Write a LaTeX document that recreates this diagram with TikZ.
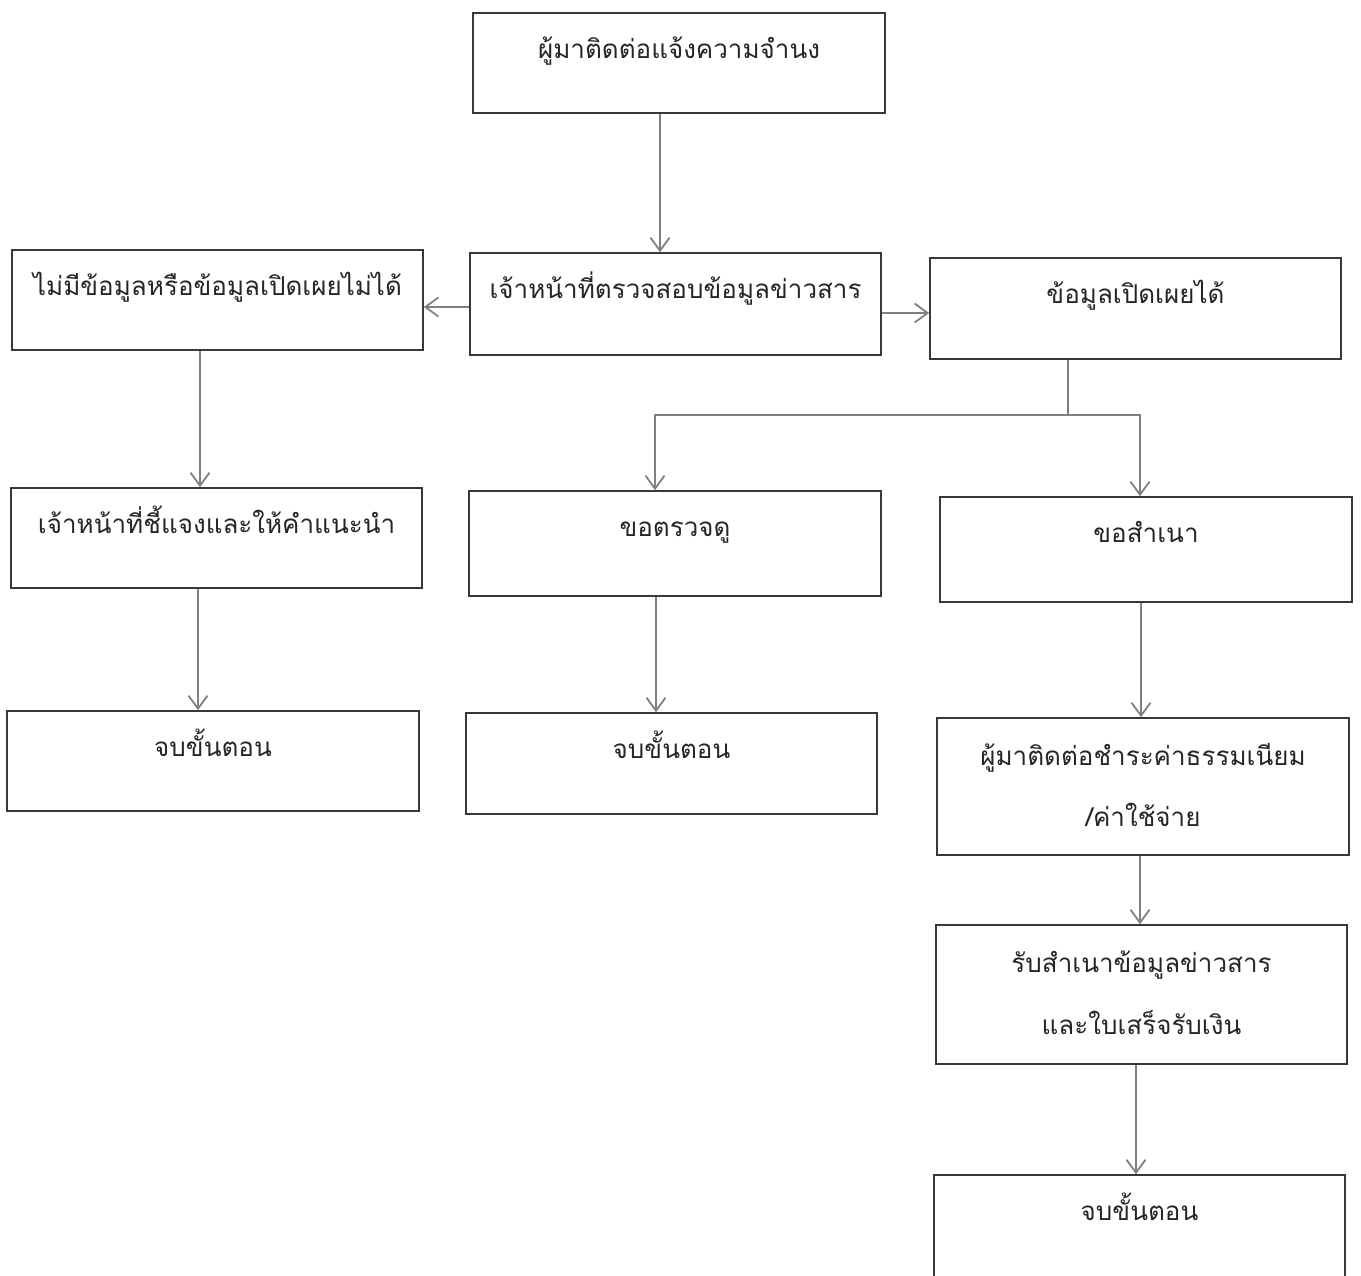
\documentclass[tikz,border=0pt]{standalone}
\usepackage{fontspec}
\newfontfamily\thaifont[Script=Thai]{Loma}
\usetikzlibrary{arrows.meta}
\begin{document}
\begin{tikzpicture}[x=1pt,y=-1pt,
  box/.style={draw=black!78, line width=1.6pt, inner sep=0pt, minimum width=411pt, minimum height=100pt},
  txt/.style={font=\thaifont\fontsize{26}{30}\selectfont, anchor=base, inner sep=0pt, text=black!85},
  conn/.style={draw=black!50, line width=1.8pt},
  arr/.style={conn, -{Straight Barb[length=13pt,width=19pt]}}]
\useasboundingbox (0,0) rectangle (1361,1276);
% boxes
\node[box, minimum width=412pt] (b1) at (679,63) {};
\node[box] (b2) at (217.5,300) {};
\node[box, minimum height=102pt] (b3) at (675.5,304) {};
\node[box, minimum height=101pt] (b4) at (1135.5,308.5) {};
\node[box] (b5) at (216.5,538) {};
\node[box, minimum width=412pt, minimum height=105pt] (b6) at (675,543.5) {};
\node[box, minimum width=412pt, minimum height=105pt] (b7) at (1146,549.5) {};
\node[box, minimum width=412pt] (b8) at (213,761) {};
\node[box, minimum height=101pt] (b9) at (671.5,763.5) {};
\node[box, minimum width=412pt, minimum height=137pt] (b10) at (1143,786.5) {};
\node[box, minimum height=139pt] (b11) at (1141.5,994.5) {};
\node[box, minimum height=120pt] (b12) at (1139.5,1235) {};
% texts
\node[txt] (t1) at ([yshift=-46pt]b1.north) {ผู้มาติดต่อแจ้งความจำนง};
\node[txt] (t2) at ([yshift=-46pt]b2.north) {ไม่มีข้อมูลหรือข้อมูลเปิดเผยไม่ได้};
\node[txt] (t3) at ([yshift=-46pt]b3.north) {เจ้าหน้าที่ตรวจสอบข้อมูลข่าวสาร};
\node[txt] (t4) at ([yshift=-46pt]b4.north) {ข้อมูลเปิดเผยได้};
\node[txt] (t5) at ([yshift=-46pt]b5.north) {เจ้าหน้าที่ชี้แจงและให้คำแนะนำ};
\node[txt] (t6) at ([yshift=-46pt]b6.north) {ขอตรวจดู};
\node[txt] (t7) at ([yshift=-46pt]b7.north) {ขอสำเนา};
\node[txt] (t8) at ([yshift=-46pt]b8.north) {จบขั้นตอน};
\node[txt] (t9) at ([yshift=-46pt]b9.north) {จบขั้นตอน};
\node[txt] (t10a) at ([yshift=-48pt]b10.north) {ผู้มาติดต่อชำระค่าธรรมเนียม};
\node[txt] (t10b) at ([yshift=-109pt]b10.north) {/ค่าใช้จ่าย};
\node[txt] (t11a) at ([yshift=-48pt]b11.north) {รับสำเนาข้อมูลข่าวสาร};
\node[txt] (t11b) at ([yshift=-110pt]b11.north) {และใบเสร็จรับเงิน};
\node[txt] (t12) at ([yshift=-46pt]b12.north) {จบขั้นตอน};
% connectors
\coordinate (j) at (1068,415);
\draw[arr] (b1.south -| 660,0) -- (b3.north -| 660,0);
\draw[arr] (b3.west |- 0,307) -- (b2.east |- 0,307);
\draw[arr] (b3.east |- 0,313) -- (b4.west |- 0,313);
\draw[conn] (b4.south -| j) -- (j);
\draw[arr] (j) -| (b6.north -| 655,0);
\draw[arr] (j) -| (b7.north -| 1140,0);
\draw[arr] (b2.south -| 200,0) -- (b5.north -| 200,0);
\draw[arr] (b5.south -| 198,0) -- (b8.north -| 198,0);
\draw[arr] (b6.south -| 656,0) -- (b9.north -| 656,0);
\draw[arr] (b7.south -| 1141,0) -- (b10.north -| 1141,0);
\draw[arr] (b10.south -| 1140,0) -- (b11.north -| 1140,0);
\draw[arr] (b11.south -| 1136,0) -- (b12.north -| 1136,0);
\end{tikzpicture}
\end{document}
